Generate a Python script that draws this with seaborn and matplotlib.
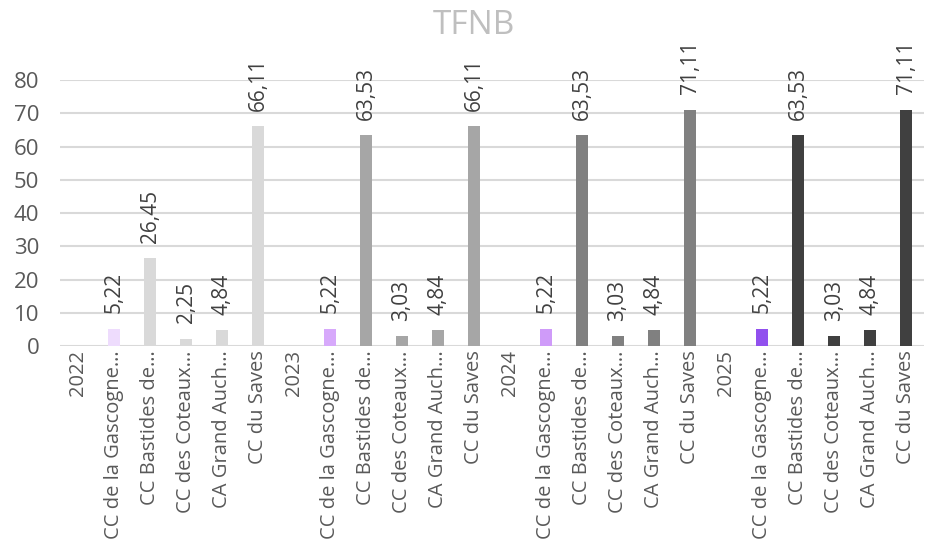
import numpy as np
import pandas as pd
import matplotlib
matplotlib.use("Agg")
import matplotlib.pyplot as plt
import seaborn as sns

years = ["2022", "2023", "2024", "2025"]
entities = ["CC de la Gascogne…", "CC Bastides de…", "CC des Coteaux…",
            "CA Grand Auch…", "CC du Saves"]
values_2022 = [5.22, 26.45, 2.25, 4.84, 66.11]
values_2023 = [5.22, 63.53, 3.03, 4.84, 66.11]
values_2024 = [5.22, 63.53, 3.03, 4.84, 71.11]
values_2025 = [5.22, 63.53, 3.03, 4.84, 71.11]
values_by_year = [values_2022, values_2023, values_2024, values_2025]

first_colors = ["#EEDCFD", "#D7A9FB", "#CF9BF9", "#9150EE"]
other_colors = ["#D9D9D9", "#A6A6A6", "#808080", "#404040"]

rows = []
for y, vals in zip(years, values_by_year):
    rows.append({"key": y, "label": y, "value": np.nan, "shade": f"{y}-other"})
    for i, (e, v) in enumerate(zip(entities, vals)):
        rows.append({"key": f"{y}-{i}", "label": e, "value": v,
                     "shade": f"{y}-first" if i == 0 else f"{y}-other"})
df = pd.DataFrame(rows)

palette = {}
for y, fc, oc in zip(years, first_colors, other_colors):
    palette[f"{y}-first"] = fc
    palette[f"{y}-other"] = oc

sns.set_theme(style="white")
plt.rcParams["font.family"] = ["Open Sans", "DejaVu Sans"]

fig = plt.figure(figsize=(9.25, 5.41), dpi=100)
ax = fig.add_axes([0.0649, 0.3604, 0.9341, 0.4916])

sns.barplot(data=df, x="key", y="value", hue="shade", palette=palette,
            order=list(df["key"]), hue_order=list(palette.keys()),
            dodge=False, width=0.333, errorbar=None, legend=False,
            saturation=1, linewidth=0, ax=ax)

# enforce bar width (one third of the category slot), centred on category
bar_w = 0.333
for p in ax.patches:
    c = p.get_x() + p.get_width() / 2
    p.set_width(bar_w)
    p.set_x(c - bar_w / 2)
    p.set_linewidth(0)

def fmt(v):
    if v is None or np.isnan(v):
        return ""
    return f"{v:.2f}".replace(".", ",")

for cont in ax.containers:
    ax.bar_label(cont, labels=[fmt(r.get_height()) for r in cont],
                 rotation=90, padding=11, color="#404040", fontsize=15)

ax.set_xlim(-0.5, len(df) - 0.5)
ax.set_ylim(0, 80)
ax.set_yticks(np.arange(0, 81, 10))
ax.set_xticks(range(len(df)))
ax.set_xticklabels(df["label"], rotation=90, fontsize=14.5, color="#595959")
ax.tick_params(axis="y", labelsize=16, colors="#595959", length=0, pad=15)
ax.tick_params(axis="x", length=0, pad=3)
ax.set_xlabel("")
ax.set_ylabel("")
for s in ax.spines.values():
    s.set_visible(False)
ax.grid(axis="y", color="#D9D9D9", linewidth=1.5)
ax.grid(axis="x", visible=False)
ax.set_axisbelow(True)

fig.text(0.512, 0.952, "TFNB", ha="center", va="center",
         fontsize=24, color="#BFBFBF")

fig.savefig("out.png", dpi=100)
